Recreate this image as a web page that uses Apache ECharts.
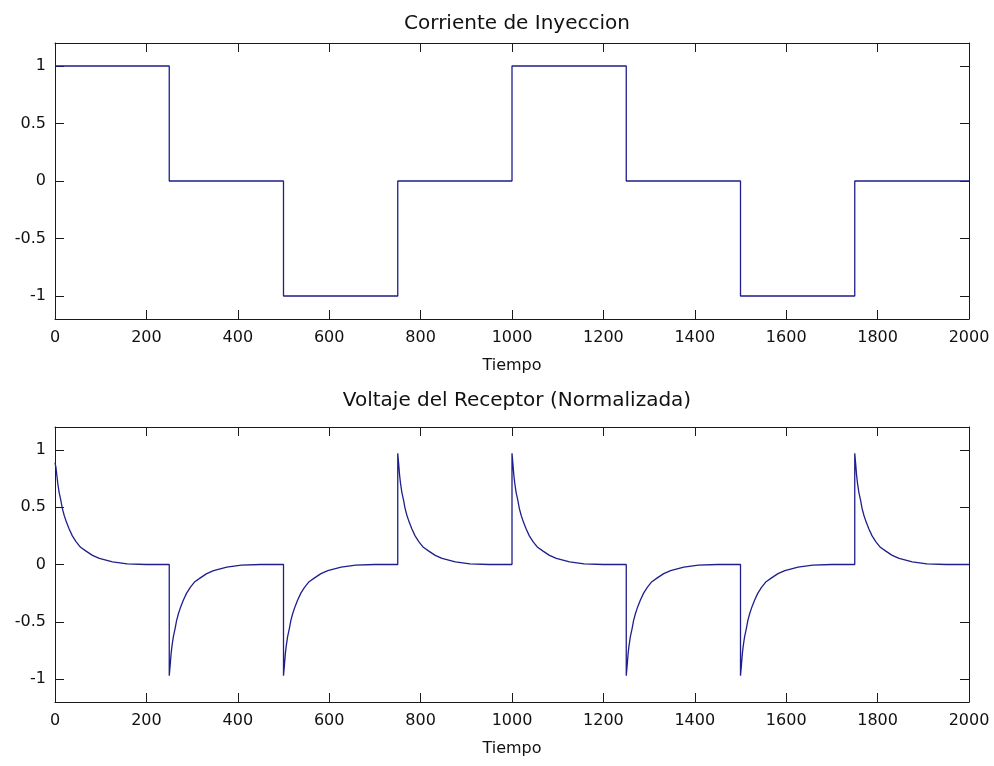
<!DOCTYPE html>
<html>
<head>
<meta charset="utf-8">
<script src="https://cdn.jsdelivr.net/npm/echarts@6/dist/echarts.min.js"></script>
<style>
  html, body { margin: 0; padding: 0; background: #fff; }
  #chart { width: 994px; height: 766px; }
</style>
</head>
<body>
<div id="chart"></div>
<script>
// ---- data ----
const titleTop = 'Corriente de Inyeccion';
const titleBottom = 'Voltaje del Receptor (Normalizada)';
const xName = 'Tiempo';
const yTicks = [-1, -0.5, 0, 0.5, 1];

// Injection current (square wave with vertical transitions)
const currentT = [0, 250, 250, 500, 500, 750, 750, 1000, 1000, 1250, 1250, 1500, 1500, 1750, 1750, 2000];
const currentV = [1, 1, 0, 0, -1, -1, 0, 0, 1, 1, 0, 0, -1, -1, 0, 0];

// Receiver voltage (normalized), spikes with decay
const voltT = [
  0, 2, 4, 6, 9, 13, 16, 20, 25, 31, 38, 46, 56, 68, 82, 97, 126, 158, 200,
  250, 250, 252, 254, 256, 259, 263, 266, 270, 275, 281, 288, 296, 306, 318, 332, 347, 376, 408, 450,
  500, 500, 502, 504, 506, 509, 513, 516, 520, 525, 531, 538, 546, 556, 568, 582, 597, 626, 658, 700,
  750, 750, 752, 754, 756, 759, 763, 766, 770, 775, 781, 788, 796, 806, 818, 832, 847, 876, 908, 950,
  1000, 1000, 1002, 1004, 1006, 1009, 1013, 1016, 1020, 1025, 1031, 1038, 1046, 1056, 1068, 1082, 1097, 1126, 1158, 1200,
  1250, 1250, 1252, 1254, 1256, 1259, 1263, 1266, 1270, 1275, 1281, 1288, 1296, 1306, 1318, 1332, 1347, 1376, 1408, 1450,
  1500, 1500, 1502, 1504, 1506, 1509, 1513, 1516, 1520, 1525, 1531, 1538, 1546, 1556, 1568, 1582, 1597, 1626, 1658, 1700,
  1750, 1750, 1752, 1754, 1756, 1759, 1763, 1766, 1770, 1775, 1781, 1788, 1796, 1806, 1818, 1832, 1847, 1876, 1908, 1950,
  2000
];
const voltV = [
  0.89, 0.85, 0.78, 0.71, 0.63, 0.555, 0.49, 0.43, 0.37, 0.31, 0.25, 0.20, 0.15, 0.117, 0.08, 0.053, 0.023, 0.006, 0,
  0, -0.97, -0.88, -0.78, -0.71, -0.63, -0.555, -0.49, -0.43, -0.37, -0.31, -0.25, -0.20, -0.15, -0.117, -0.08, -0.053, -0.023, -0.006, 0,
  0, -0.97, -0.88, -0.78, -0.71, -0.63, -0.555, -0.49, -0.43, -0.37, -0.31, -0.25, -0.20, -0.15, -0.117, -0.08, -0.053, -0.023, -0.006, 0,
  0, 0.97, 0.88, 0.78, 0.71, 0.63, 0.555, 0.49, 0.43, 0.37, 0.31, 0.25, 0.20, 0.15, 0.117, 0.08, 0.053, 0.023, 0.006, 0,
  0, 0.97, 0.88, 0.78, 0.71, 0.63, 0.555, 0.49, 0.43, 0.37, 0.31, 0.25, 0.20, 0.15, 0.117, 0.08, 0.053, 0.023, 0.006, 0,
  0, -0.97, -0.88, -0.78, -0.71, -0.63, -0.555, -0.49, -0.43, -0.37, -0.31, -0.25, -0.20, -0.15, -0.117, -0.08, -0.053, -0.023, -0.006, 0,
  0, -0.97, -0.88, -0.78, -0.71, -0.63, -0.555, -0.49, -0.43, -0.37, -0.31, -0.25, -0.20, -0.15, -0.117, -0.08, -0.053, -0.023, -0.006, 0,
  0, 0.97, 0.88, 0.78, 0.71, 0.63, 0.555, 0.49, 0.43, 0.37, 0.31, 0.25, 0.20, 0.15, 0.117, 0.08, 0.053, 0.023, 0.006, 0,
  0
];

// ---- chart ----
const FONT = 'DejaVu Sans';
const AXIS_COLOR = '#1a1a1a';
const LINE_COLOR = '#1e1e8c';

function zip(a, b) { return a.map((v, i) => [v, b[i]]); }
const plain = v => String(v);

function xAxisPair(gridIndex) {
  return [
    {
      type: 'value', gridIndex, position: 'bottom',
      min: 0, max: 2000, interval: 200,
      name: xName, nameLocation: 'middle', nameGap: 39,
      nameTextStyle: { fontFamily: FONT, fontSize: 16, color: '#111' },
      axisLine: { show: true, onZero: false, lineStyle: { color: AXIS_COLOR, width: 1 } },
      axisTick: { show: true, inside: true, length: 9, lineStyle: { color: AXIS_COLOR } },
      axisLabel: { fontFamily: FONT, fontSize: 16, color: '#111', margin: 11, formatter: plain },
      splitLine: { show: false }
    },
    {
      type: 'value', gridIndex, position: 'top',
      min: 0, max: 2000, interval: 200,
      axisLine: { show: true, onZero: false, lineStyle: { color: AXIS_COLOR, width: 1 } },
      axisTick: { show: true, inside: true, length: 9, lineStyle: { color: AXIS_COLOR } },
      axisLabel: { show: false },
      splitLine: { show: false }
    }
  ];
}

function yAxisPair(gridIndex) {
  return [
    {
      type: 'value', gridIndex, position: 'left',
      min: -1.2, max: 1.2,
      axisLine: { show: true, onZero: false, lineStyle: { color: AXIS_COLOR, width: 1 } },
      axisTick: { show: true, inside: true, length: 9, customValues: yTicks, lineStyle: { color: AXIS_COLOR } },
      axisLabel: { fontFamily: FONT, fontSize: 16, color: '#111', margin: 9, customValues: yTicks, formatter: plain },
      splitLine: { show: false }
    },
    {
      type: 'value', gridIndex, position: 'right',
      min: -1.2, max: 1.2,
      axisLine: { show: true, onZero: false, lineStyle: { color: AXIS_COLOR, width: 1 } },
      axisTick: { show: true, inside: true, length: 9, customValues: yTicks, lineStyle: { color: AXIS_COLOR } },
      axisLabel: { show: false, customValues: yTicks },
      splitLine: { show: false }
    }
  ];
}

const chart = echarts.init(document.getElementById('chart'), null, { renderer: 'canvas' });
chart.setOption({
  animation: false,
  backgroundColor: '#ffffff',
  title: [
    { text: titleTop, left: 512, top: 9, textAlign: 'center',
      textStyle: { fontFamily: FONT, fontSize: 20, fontWeight: 'normal', color: '#111' } },
    { text: titleBottom, left: 512, top: 386, textAlign: 'center',
      textStyle: { fontFamily: FONT, fontSize: 20, fontWeight: 'normal', color: '#111' } }
  ],
  grid: [
    { left: 55, right: 25, top: 43, height: 276 },
    { left: 55, right: 25, top: 427, height: 275 }
  ],
  xAxis: [...xAxisPair(0), ...xAxisPair(1)],
  yAxis: [...yAxisPair(0), ...yAxisPair(1)],
  series: [
    {
      type: 'line', xAxisIndex: 0, yAxisIndex: 0,
      data: zip(currentT, currentV),
      showSymbol: false, symbol: 'none',
      lineStyle: { color: LINE_COLOR, width: 1.3 }
    },
    {
      type: 'line', xAxisIndex: 2, yAxisIndex: 2,
      data: zip(voltT, voltV),
      showSymbol: false, symbol: 'none',
      lineStyle: { color: LINE_COLOR, width: 1.3 }
    }
  ]
});
</script>
</body>
</html>
